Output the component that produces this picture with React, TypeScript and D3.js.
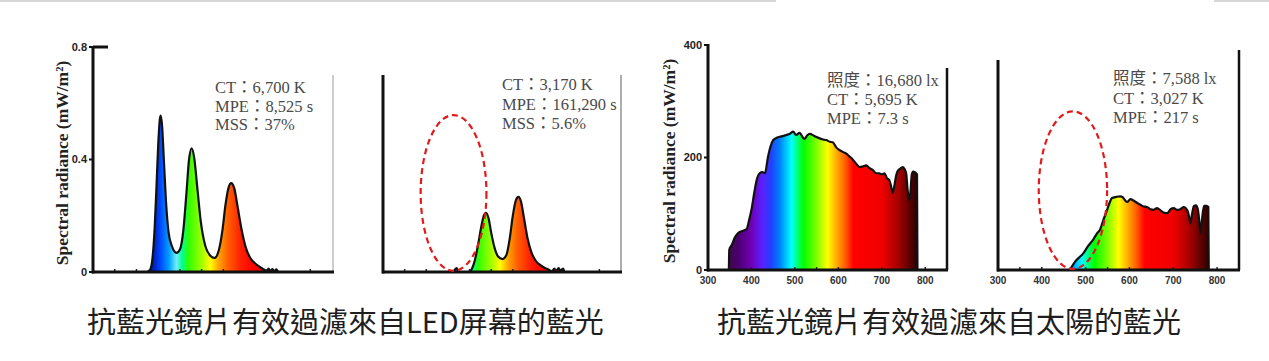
import React from "react";
import * as d3 from "d3";

// ---------- data ----------
// LED screen spectrum (nm, mW/m²) without lens
const ledRaw: [number, number][] = [
  [425, 0], [432, 0.01], [437, 0.05], [442, 0.16], [446, 0.3], [450, 0.45], [454, 0.545], [456, 0.556],
  [459, 0.52], [463, 0.4], [468, 0.25], [474, 0.14], [482, 0.09], [492, 0.068], [500, 0.08],
  [508, 0.15], [515, 0.28], [521, 0.4], [527, 0.44], [533, 0.405], [540, 0.3], [548, 0.18],
  [558, 0.095], [570, 0.058], [580, 0.05], [590, 0.08], [598, 0.15], [605, 0.24], [612, 0.3],
  [618, 0.316], [625, 0.298], [633, 0.23], [642, 0.15], [652, 0.085], [662, 0.05], [672, 0.032],
  [682, 0.02], [692, 0.01], [700, 0.004], [704, 0.012], [708, 0.003], [713, 0.01], [717, 0.002],
  [722, 0.009], [727, 0], [745, 0]
];
// LED screen spectrum through blue-light lens
const ledFiltered: [number, number][] = [
  [440, 0], [462, 0], [466, 0.008], [470, 0.014], [474, 0.004], [480, 0], [498, 0], [505, 0.01],
  [512, 0.04], [520, 0.1], [527, 0.16], [533, 0.2], [538, 0.21], [544, 0.19], [550, 0.14],
  [558, 0.085], [566, 0.055], [576, 0.046], [585, 0.06], [593, 0.12], [600, 0.2], [607, 0.255],
  [613, 0.267], [619, 0.25], [626, 0.19], [634, 0.12], [643, 0.07], [653, 0.04], [663, 0.025],
  [673, 0.015], [683, 0.008], [690, 0.002], [696, 0.012], [700, 0.003], [706, 0.014], [710, 0.004],
  [716, 0.012], [720, 0], [740, 0]
];
// Sunlight spectrum without lens
const sunRaw: [number, number][] = [
  [348, 0], [349, 36], [355, 45], [362, 58], [370, 66], [381, 70], [389, 73], [395, 90], [400, 107],
  [406, 135], [412, 160], [419, 172], [425, 174], [431, 172], [438, 201], [444, 220], [450, 231],
  [458, 235], [465, 237], [472, 238], [480, 240], [488, 242], [496, 246], [503, 240], [511, 244],
  [518, 236], [522, 233], [528, 239], [534, 242], [545, 238], [557, 234], [565, 232], [572, 231],
  [580, 228], [587, 227], [595, 218], [603, 213], [610, 210], [618, 207], [624, 203], [630, 199],
  [640, 190], [649, 183], [656, 184], [664, 186], [672, 181], [679, 178], [687, 172], [694, 172],
  [700, 170], [706, 172], [712, 163], [717, 160], [721, 150], [725, 137], [729, 150], [733, 168],
  [736, 175], [742, 180], [748, 183], [752, 180], [756, 172], [759, 145], [763, 124], [766, 140],
  [769, 170], [772, 175], [776, 174], [779, 172], [781, 170], [782, 0]
];
// Sunlight spectrum through blue-light lens
const sunFiltered: [number, number][] = [
  [462, 0], [465, 2], [470, 8], [476, 15], [485, 22], [495, 30], [505, 42], [518, 55], [526, 65],
  [533, 72], [540, 88], [549, 107], [555, 120], [560, 128], [570, 130], [579, 131], [585, 129],
  [590, 124], [595, 121], [602, 126], [610, 123], [618, 119], [625, 116], [632, 113], [640, 112],
  [648, 108], [655, 107], [663, 110], [671, 106], [678, 102], [686, 101], [694, 108], [701, 110],
  [708, 107], [716, 108], [724, 112], [732, 106], [736, 95], [739, 83], [743, 100], [747, 114],
  [752, 115], [756, 108], [759, 90], [762, 66], [765, 85], [770, 114], [776, 114], [780, 112],
  [781, 0]
];

const ledYTicks = [0, 0.4, 0.8];
const ledYTickLabels = ["0", "0.4", "0.8"];
const sunYTicks = [0, 200, 400];
const sunXTicks = [300, 400, 500, 600, 700, 800];
const minorXTicks = [350, 400, 500, 550, 600, 700, 800];

const ledInfo1 = ["CT：6,700 K", "MPE：8,525 s", "MSS：37%"];
const ledInfo2 = ["CT：3,170 K", "MPE：161,290 s", "MSS：5.6%"];
const sunInfo1 = ["照度：16,680 lx", "CT：5,695 K", "MPE：7.3 s"];
const sunInfo2 = ["照度：7,588 lx", "CT：3,027 K", "MPE：217 s"];

const caption1 = "抗藍光鏡片有效過濾來自LED屏幕的藍光";
const caption2 = "抗藍光鏡片有效過濾來自太陽的藍光";
const yTitle = "Spectral radiance (mW/m²)";

// colour stops by wavelength (styling)
const ledStops: [number, string][] = [
  [420, "#000a5a"], [440, "#0020c0"], [455, "#0048ff"], [475, "#00a0ff"], [492, "#70eeff"],
  [505, "#00ff90"], [520, "#30ff00"], [550, "#a0ff00"], [570, "#ffff00"], [590, "#ffa000"],
  [610, "#ff6000"], [640, "#ff2000"], [670, "#ff0000"], [710, "#d00000"]
];
const sunStops: [number, string][] = [
  [345, "#3a0a45"], [370, "#4c0070"], [400, "#7000b8"], [425, "#5a20ff"], [445, "#2040ff"],
  [465, "#0080ff"], [492, "#00ffff"], [505, "#00ff80"], [520, "#00ff00"], [550, "#80ff00"],
  [575, "#ffff00"], [595, "#ffb000"], [615, "#ff6000"], [635, "#ff0000"], [700, "#f00000"],
  [740, "#a00000"], [782, "#2a0000"]
];

const SERIF = "'Liberation Serif', 'Times New Roman', 'Noto Sans CJK TC', serif";
const SANS = "'Liberation Sans', Arial, sans-serif";

type PanelProps = {
  id: string;
  data: [number, number][];
  x0: number; x1: number; // pixel range for 300..850 nm
  yTop: number; yBottom: number; // pixel for yMax and 0
  yMax: number;
  axisTop: number;
  stops: [number, string][];
  info: string[];
  infoX: number; infoY: number; infoDy: number;
  rightBorder: { x: number; top: number; color: string; w: number };
  ellipse?: { cx: number; cy: number; rx: number; ry: number };
  yTicks?: number[]; yTickLabels?: string[];
  xLabels?: boolean;
  topTickRight?: boolean;
};

function Panel(p: PanelProps) {
  const x = d3.scaleLinear().domain([300, 850]).range([p.x0, p.x1]);
  const y = d3.scaleLinear().domain([0, p.yMax]).range([p.yBottom, p.yTop]);
  const area = d3.area<[number, number]>().x(d => x(d[0])).y0(y(0)).y1(d => y(d[1])).curve(d3.curveMonotoneX);
  const line = d3.line<[number, number]>().x(d => x(d[0])).y(d => y(d[1])).curve(d3.curveMonotoneX);
  const gx0 = x(p.stops[0][0]);
  const gx1 = x(p.stops[p.stops.length - 1][0]);
  const base = y(0);
  return (
    <g>
      <defs>
        <linearGradient id={p.id} gradientUnits="userSpaceOnUse" x1={gx0} x2={gx1} y1={0} y2={0}>
          {p.stops.map(([w, c], i) => (
            <stop key={i} offset={(x(w) - gx0) / (gx1 - gx0)} stopColor={c} />
          ))}
        </linearGradient>
      </defs>
      <path d={area(p.data) || ""} fill={`url(#${p.id})`} />
      <path d={line(p.data) || ""} fill="none" stroke="#111" strokeWidth={2.2} strokeLinejoin="round" />
      <line x1={p.rightBorder.x} x2={p.rightBorder.x} y1={p.rightBorder.top} y2={base}
        stroke={p.rightBorder.color} strokeWidth={p.rightBorder.w} />
      {minorXTicks.map(t => (
        <line key={t} x1={x(t)} x2={x(t)} y1={base} y2={base - 3} stroke="#222" strokeWidth={1.5} />
      ))}
      <line x1={p.x0 - 1} x2={p.rightBorder.x + 1} y1={base} y2={base} stroke="#111" strokeWidth={3} />
      <line x1={p.x0} x2={p.x0} y1={p.axisTop} y2={base + 1.5} stroke="#111" strokeWidth={3} />
      {p.topTickRight && (
        <line x1={p.x0} x2={p.x0 + 15} y1={y(p.yMax)} y2={y(p.yMax)} stroke="#111" strokeWidth={3} />
      )}
      {p.yTicks && p.yTicks.map((t, i) => (
        <g key={t}>
          <line x1={p.x0 - 4} x2={p.x0} y1={y(t)} y2={y(t)} stroke="#111" strokeWidth={2} />
          <text x={p.x0 - 6} y={y(t)} dy="0.35em" textAnchor="end" fontFamily={SANS} fontWeight="bold"
            fontSize={11} fill="#222">{p.yTickLabels ? p.yTickLabels[i] : t}</text>
        </g>
      ))}
      {p.xLabels && sunXTicks.map(t => (
        <text key={t} x={x(t)} y={base + 14} textAnchor="middle" fontFamily={SANS} fontWeight="bold"
          fontSize={10} fill="#333">{t}</text>
      ))}
      {p.info.map((s, i) => (
        <text key={i} x={p.infoX} y={p.infoY + i * p.infoDy} fontFamily={SERIF} fontSize={16.5} fill="#4a4a4a">{s}</text>
      ))}
      {p.ellipse && (
        <ellipse cx={x(p.ellipse.cx)} cy={y(p.ellipse.cy)}
          rx={x(p.ellipse.cx + p.ellipse.rx) - x(p.ellipse.cx)}
          ry={y(0) - y(p.ellipse.ry)}
          fill="none" stroke="#e01b1b" strokeWidth={2.2} strokeDasharray="6,4" />
      )}
    </g>
  );
}

export default function App() {
  return (
    <svg width={1269} height={361} style={{ position: "absolute", left: 0, top: 0, background: "#fff" }}>
      <rect x={0} y={0} width={1269} height={361} fill="#fff" />
      <line x1={0} x2={776} y1={1} y2={1} stroke="#d6d6d6" strokeWidth={2} />
      <line x1={1214} x2={1269} y1={1} y2={1} stroke="#d6d6d6" strokeWidth={2} />

      <text transform="translate(68,163) rotate(-90)" textAnchor="middle" fontFamily={SERIF} fontWeight="bold"
        fontSize={17.5} fill="#222">{yTitle}</text>
      <text transform="translate(675,161) rotate(-90)" textAnchor="middle" fontFamily={SERIF} fontWeight="bold"
        fontSize={17.5} fill="#222">{yTitle}</text>

      <Panel id="g1" data={ledRaw} x0={93} x1={332} yTop={47} yBottom={272} yMax={0.8} axisTop={46}
        stops={ledStops} info={ledInfo1} infoX={215} infoY={93} infoDy={18.5}
        rightBorder={{ x: 333, top: 75, color: "#9a9a9a", w: 1 }}
        yTicks={ledYTicks} yTickLabels={ledYTickLabels} topTickRight />
      <Panel id="g2" data={ledFiltered} x0={383} x1={621} yTop={47} yBottom={272} yMax={0.8} axisTop={75}
        stops={ledStops} info={ledInfo2} infoX={502} infoY={90} infoDy={19.5}
        rightBorder={{ x: 621, top: 75, color: "#777", w: 1.2 }}
        ellipse={{ cx: 463, cy: 0.281, rx: 76, ry: 0.277 }} />
      <Panel id="g3" data={sunRaw} x0={708} x1={947} yTop={45} yBottom={270} yMax={400} axisTop={44}
        stops={sunStops} info={sunInfo1} infoX={827} infoY={86} infoDy={19}
        rightBorder={{ x: 947, top: 68, color: "#111", w: 2.5 }}
        yTicks={sunYTicks} xLabels />
      <Panel id="g4" data={sunFiltered} x0={998} x1={1239} yTop={45} yBottom={270} yMax={400} axisTop={60}
        stops={sunStops} info={sunInfo2} infoX={1113} infoY={84} infoDy={19.5}
        rightBorder={{ x: 1239, top: 50, color: "#111", w: 2.5 }}
        ellipse={{ cx: 471, cy: 142, rx: 78, ry: 140 }} xLabels />

      <text x={87} y={333} fontFamily="'Noto Sans CJK TC', 'Noto Sans', sans-serif" fontSize={29} fill="#1e1e1e">{caption1}</text>
      <text x={717} y={333} fontFamily="'Noto Sans CJK TC', 'Noto Sans', sans-serif" fontSize={29} fill="#1e1e1e">{caption2}</text>
    </svg>
  );
}
